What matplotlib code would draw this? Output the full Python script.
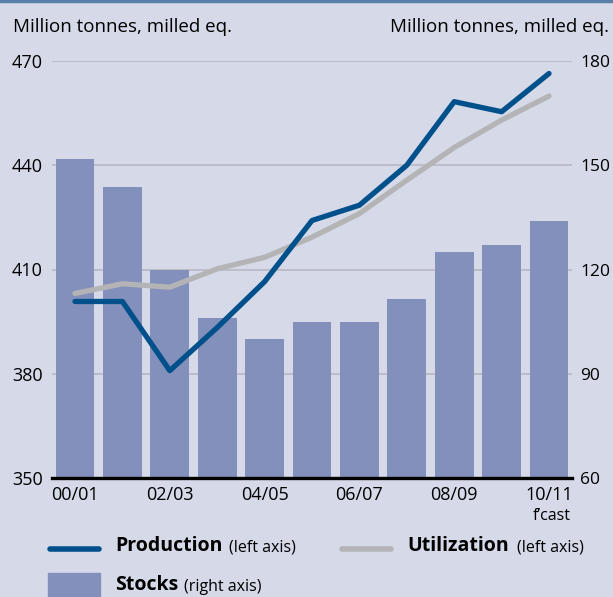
import matplotlib.pyplot as plt
from matplotlib.lines import Line2D
from matplotlib.patches import Rectangle
import numpy as np

plt.rcParams['font.family'] = ['Open Sans', 'DejaVu Sans']

# data
seasons = ['00/01', '01/02', '02/03', '03/04', '04/05', '05/06',
           '06/07', '07/08', '08/09', '09/10', '10/11']
production = [400.8, 400.8, 380.9, 393.3, 406.5, 424.1, 428.5, 440.0, 458.3, 455.4, 466.4]
utilization = [403.1, 405.9, 404.9, 410.2, 413.5, 419.3, 426.1, 435.7, 445.1, 453.0, 459.9]
stocks = [151.7, 143.6, 120.0, 105.9, 100.1, 105.0, 105.0, 111.6, 125.0, 127.1, 134.1]
left_ticks = [350, 380, 410, 440, 470]
right_ticks = [60, 90, 120, 150, 180]

bg = '#d5d9e8'
bar_col = '#8390bb'
prod_col = '#00508c'
util_col = '#b4b4b6'
grid_col = '#b9bcc6'

fig = plt.figure(figsize=(6.13, 5.97), dpi=100, facecolor=bg)
W, H = 613, 597
L, R, T, B = 52, 572, 61, 478

ax = fig.add_axes([L / W, 1 - B / H, (R - L) / W, (B - T) / H])
ax.set_facecolor(bg)
ax2 = ax.twinx()

x = np.arange(len(seasons))

# bars on right axis, underneath the lines
ax2.bar(x, stocks, width=0.815, color=bar_col, zorder=2)
ax2.set_ylim(60, 180)
ax2.set_yticks(right_ticks)

ax.set_ylim(350, 470)
ax.set_yticks(left_ticks)
ax.set_xlim(-0.485, 10.485)

# gridlines behind bars (right axis is the left axis shifted by 290)
for t in left_ticks[1:]:
    ax2.axhline(t - 290, color=grid_col, lw=1.3, zorder=1)

# lines go on ax2 so they sit above the bars
ax2.plot(x, [v - 290 for v in utilization], color=util_col, lw=3.8, zorder=3, solid_capstyle='round')
ax2.plot(x, [v - 290 for v in production], color=prod_col, lw=3.8, zorder=4, solid_capstyle='round')

for a in (ax, ax2):
    for s in a.spines.values():
        s.set_visible(False)
    a.tick_params(length=0, labelsize=13, colors='black')

ax2.axhline(60, color='black', lw=2.4, zorder=10, clip_on=False)

ax.set_xticks(x[::2])
ax.set_xticklabels([seasons[i] for i in range(0, len(seasons), 2)])
ax.tick_params(axis='x', pad=6)
ax.tick_params(axis='y', pad=6.5)
ax2.tick_params(axis='y', pad=6, labelsize=12.5)

fig.text(571 / W, 1 - 516 / H, "f\u2019cast", ha='right', va='center', fontsize=11.5)

fig.text(13 / W, 1 - 27 / H, 'Million tonnes, milled eq.', ha='left', va='center', fontsize=13.5)
fig.text(609 / W, 1 - 27 / H, 'Million tonnes, milled eq.', ha='right', va='center', fontsize=13.5)

# top border
fig.add_artist(Line2D([0, 1], [1 - 1 / H, 1 - 1 / H], color='#5b80a8', lw=2.5))

# legend
ly = 1 - 549 / H
fig.add_artist(Line2D([50 / W, 99 / W], [ly, ly], color=prod_col, lw=4, solid_capstyle='round'))
fig.text(115 / W, 1 - 546 / H, 'Production', fontsize=14, fontweight='bold', ha='left', va='center')
fig.text(229 / W, 1 - 548 / H, '(left axis)', fontsize=11.5, ha='left', va='center')

fig.add_artist(Line2D([342 / W, 391 / W], [ly, ly], color=util_col, lw=4, solid_capstyle='round'))
fig.text(407 / W, 1 - 546 / H, 'Utilization', fontsize=14, fontweight='bold', ha='left', va='center')
fig.text(517 / W, 1 - 548 / H, '(left axis)', fontsize=11.5, ha='left', va='center')

fig.add_artist(Rectangle((48 / W, 0), 52 / W, 24 / H, color=bar_col, transform=fig.transFigure))
fig.text(115 / W, 1 - 585 / H, 'Stocks', fontsize=14, fontweight='bold', ha='left', va='center')
fig.text(184 / W, 1 - 587 / H, '(right axis)', fontsize=11.5, ha='left', va='center')

fig.savefig('out.png', dpi=100, facecolor=bg)
